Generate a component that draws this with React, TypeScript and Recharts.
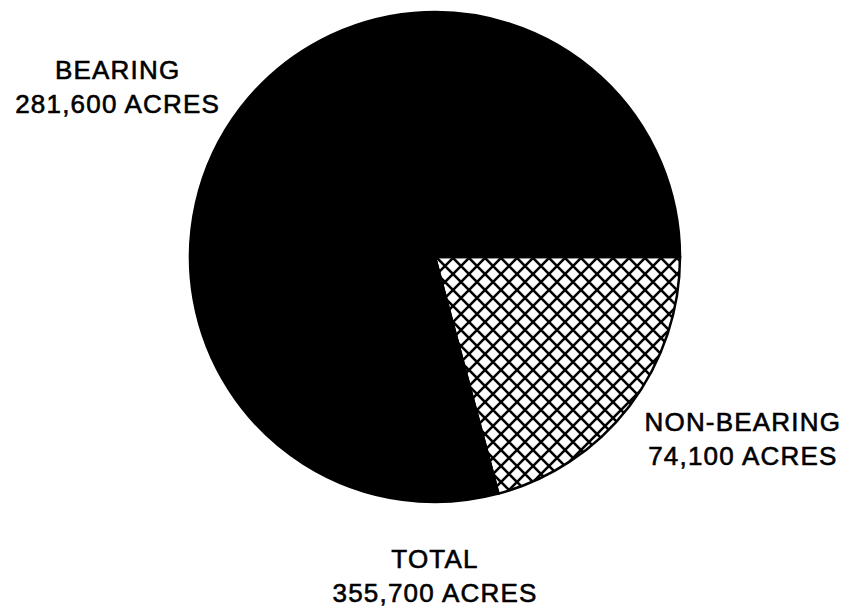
import { PieChart, Pie, Cell } from 'recharts'

const categories = ['NON-BEARING', 'BEARING']
const acres = [74100, 281600]
const totalAcres = 355700

const data = categories.map((name, i) => ({ name, value: acres[i] }))

const fmt = (n: number) => n.toLocaleString('en-US')

const fontStyle = {
  fontFamily: '"Liberation Sans", Arial, sans-serif',
  fontSize: 26,
  letterSpacing: 1.2,
  stroke: '#000',
  strokeWidth: 0.6,
}

// labels sit outside the pie, pushed out along the slice's mid angle
const renderLabel = (props: any) => {
  const { cx, cy, midAngle, name, value } = props
  const rad = (Math.PI / 180) * midAngle
  const x = cx + 400 * Math.cos(rad) * (name === 'BEARING' ? 1 : 0.97)
  const y = cy - 280 * Math.sin(rad) * (name === 'BEARING' ? 1 : 1.07)
  return (
    <text x={x} y={y} textAnchor="middle" fill="#000" style={fontStyle}>
      <tspan x={x} dy={-8}>{name}</tspan>
      <tspan x={x} dy={34}>{fmt(value)} ACRES</tspan>
    </text>
  )
}

export default function App() {
  return (
    <div style={{ position: 'absolute', left: 0, top: 0, width: 847, height: 608, background: '#fff' }}>
      <PieChart width={847} height={608} margin={{ top: 0, right: 0, bottom: 0, left: 0 }}>
        <defs>
          <pattern id="xhatch" width="16" height="16" patternUnits="userSpaceOnUse" x="5" y="2">
            <rect width="16" height="16" fill="#fff" />
            <path d="M-4,-4 L20,20 M20,-4 L-4,20" stroke="#000" strokeWidth={2.6} />
          </pattern>
        </defs>
        <Pie
          data={data}
          dataKey="value"
          nameKey="name"
          cx={435}
          cy={257}
          outerRadius={245}
          startAngle={0}
          endAngle={-360}
          stroke="#000"
          strokeWidth={2.5}
          label={renderLabel}
          labelLine={false}
          isAnimationActive={false}
        >
          <Cell fill="url(#xhatch)" />
          <Cell fill="#000" />
        </Pie>
        <text x={435} y={568} textAnchor="middle" fill="#000" style={fontStyle}>
          <tspan x={435}>TOTAL</tspan>
          <tspan x={435} dy={34}>{fmt(totalAcres)} ACRES</tspan>
        </text>
      </PieChart>
    </div>
  )
}
